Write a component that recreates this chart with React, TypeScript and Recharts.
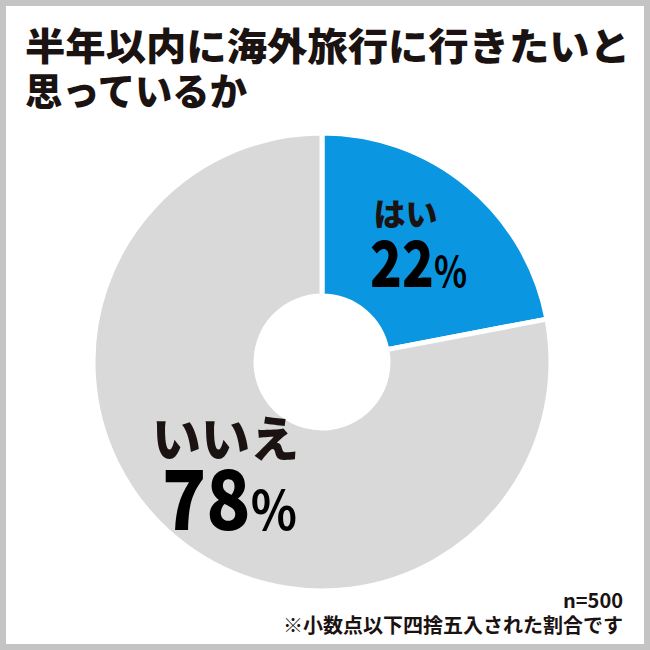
import React from 'react';
import { PieChart, Pie, Cell } from 'recharts';

const categories = ['はい', 'いいえ'];
const values = [22, 78];
const colors = ['#0a96e0', '#d9d9d9'];
const titleLines = ['半年以内に海外旅行に行きたいと', '思っているか'];
const sampleNote = 'n=500';
const roundingNote = '※小数点以下四捨五入された割合です';

const data = categories.map((name, i) => ({ name, value: values[i] }));

const RADIAN = Math.PI / 180;
const labelStyles = [
  { nameSize: 32, numSize: 64, pctSize: 42, nameDx: -12, nameDy: -20, numDx: 1, numDy: 41, numWidth: 97 },
  { nameSize: 49, numSize: 82, pctSize: 54, nameDx: -1, nameDy: -21, numDx: 3, numDy: 52, numWidth: 135 },
];
const FONT = '"Noto Sans CJK JP", "Noto Sans", sans-serif';
const TEXT = '#1a1311';

const renderLabel = (props: any) => {
  const { cx, cy, midAngle, index, name, value } = props;
  const r = 150;
  const x = cx + r * Math.cos(-midAngle * RADIAN);
  const y = cy + r * Math.sin(-midAngle * RADIAN);
  const s = labelStyles[index];
  return (
    <g>
      <text x={x + s.nameDx} y={y + s.nameDy} textAnchor="middle" fontFamily={FONT} fontWeight={900} fontSize={s.nameSize} fill={TEXT}>
        {name}
      </text>
      <text
        x={x + s.numDx}
        y={y + s.numDy}
        textAnchor="middle"
        fontFamily={FONT}
        fontWeight={900}
        fontSize={s.numSize}
        fill="#000"
        textLength={s.numWidth}
        lengthAdjust="spacingAndGlyphs"
      >
        {value}
        <tspan fontSize={s.pctSize} fontWeight={700}>%</tspan>
      </text>
    </g>
  );
};

export default function App() {
  return (
    <div style={{ position: 'absolute', left: 0, top: 0, width: 650, height: 650, background: '#fff' }}>
      <div style={{ position: 'absolute', left: 0, top: 0 }}>
        <PieChart width={650} height={650} margin={{ top: 0, right: 0, bottom: 0, left: 0 }}>
          <Pie
            data={data}
            dataKey="value"
            nameKey="name"
            cx={322}
            cy={362}
            innerRadius={66}
            outerRadius={229}
            startAngle={90}
            endAngle={-270}
            stroke="#ffffff"
            strokeWidth={5}
            label={renderLabel}
            labelLine={false}
            isAnimationActive={false}
          >
            {data.map((d, i) => (
              <Cell key={d.name} fill={colors[i]} />
            ))}
          </Pie>
        </PieChart>
      </div>
      <svg width={650} height={650} style={{ position: 'absolute', left: 0, top: 0, pointerEvents: 'none' }}>
        <text x={25} y={60} fontFamily={FONT} fontWeight={900} fontSize={38} fill={TEXT} textLength={605} lengthAdjust="spacingAndGlyphs">
          {titleLines[0]}
        </text>
        <text x={25} y={105} fontFamily={FONT} fontWeight={900} fontSize={38} fill={TEXT} textLength={222} lengthAdjust="spacingAndGlyphs">
          {titleLines[1]}
        </text>
        <text x={623} y={608} textAnchor="end" fontFamily={FONT} fontWeight={700} fontSize={20} fill={TEXT}>
          {sampleNote}
        </text>
        <text x={623} y={633} textAnchor="end" fontFamily={FONT} fontWeight={700} fontSize={20} fill={TEXT} textLength={340} lengthAdjust="spacingAndGlyphs">
          {roundingNote}
        </text>
        <rect x={3} y={3} width={644} height={644} fill="none" stroke="#c4c4c4" strokeWidth={6} />
      </svg>
    </div>
  );
}
